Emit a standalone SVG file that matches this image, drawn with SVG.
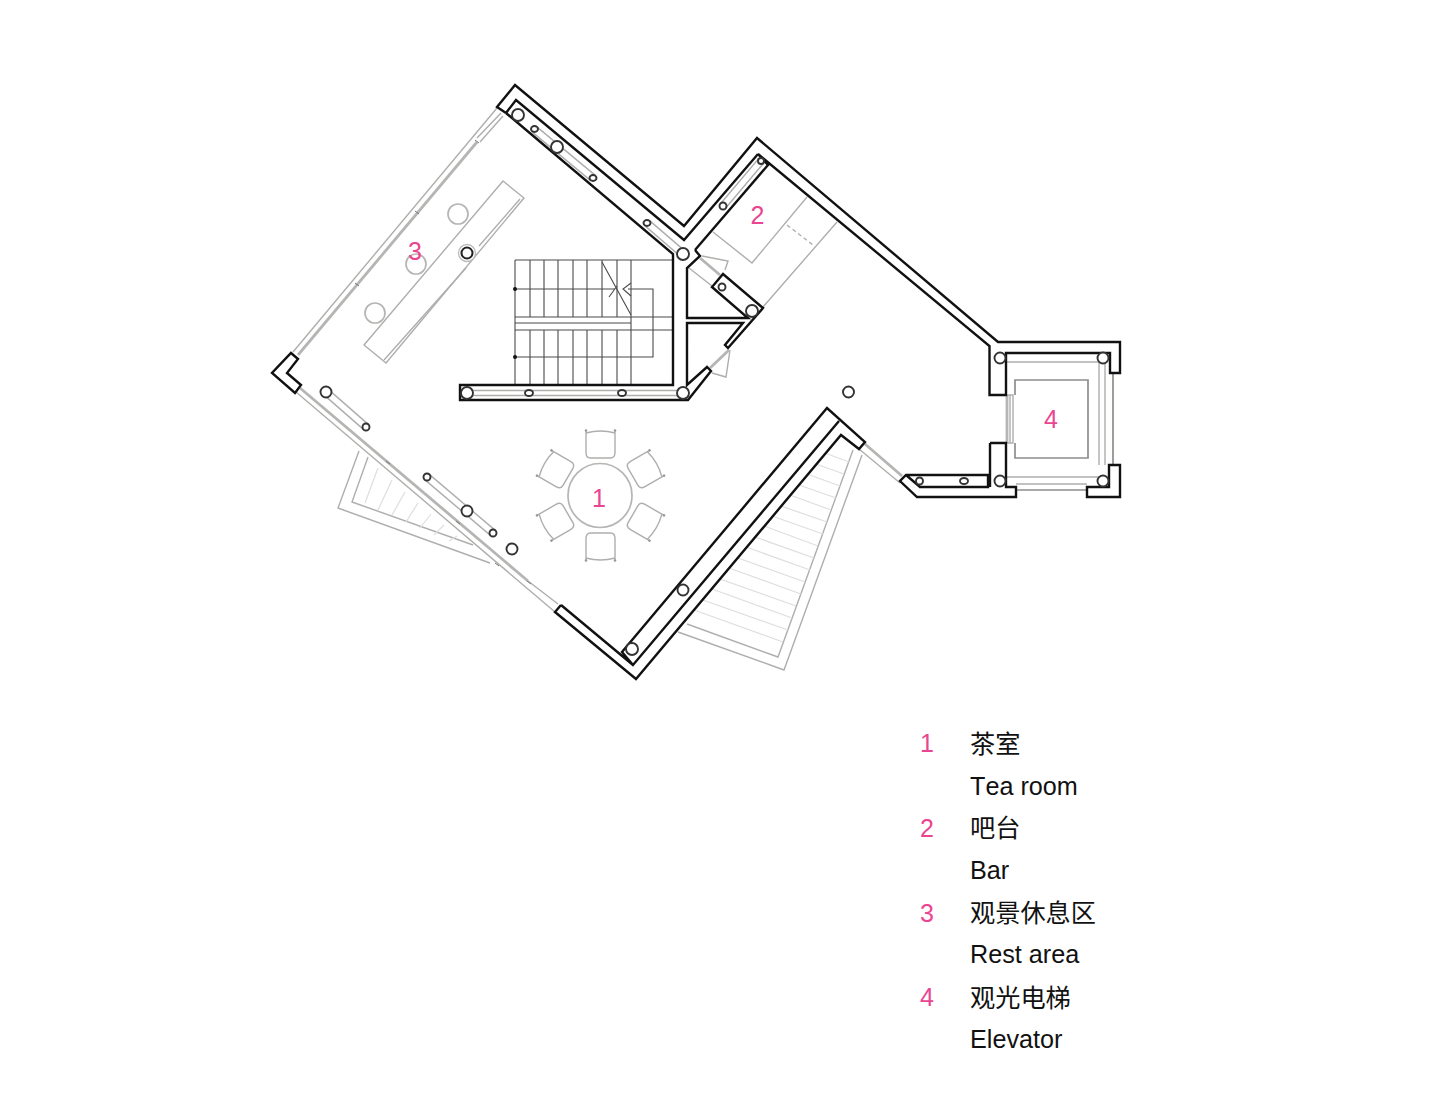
<svg xmlns="http://www.w3.org/2000/svg" width="1440" height="1101" viewBox="0 0 1440 1101">
<style>
.wall{fill:none;stroke:#111;stroke-width:2.4;stroke-linejoin:miter}
.g{fill:none;stroke:#aeaeac;stroke-width:1.4}
.gd{fill:none;stroke:#8f8d8a;stroke-width:1.7}
.gt{fill:none;stroke:#b5b5b3;stroke-width:2.8}
.h{fill:none;stroke:#dedede;stroke-width:1.2}
.st{fill:none;stroke:#4a4a4a;stroke-width:1.1}
.tk{fill:none;stroke:#777;stroke-width:1}
.c{fill:#fff;stroke:#333;stroke-width:1.9}
.cg{fill:#fff;stroke:#b5b5b3;stroke-width:1.7}
.n{font-family:"Liberation Sans",Arial,sans-serif;font-size:25px;fill:#ea4590}
.t{font-family:"Liberation Sans","Noto Sans CJK SC",sans-serif;font-size:25.200px;fill:#111;font-kerning:none}
</style>
<defs>
<g id="chair">
<path class="g" d="M-14.500,-65V-43Q-14.500,-37.500 -10,-37.500H10Q14.500,-37.500 14.500,-43V-65M-14.500,-62.500Q0,-66.500 14.500,-62.500"/>
<circle cx="-14.500" cy="-65" r="1.300" fill="#999"/><circle cx="14.500" cy="-65" r="1.300" fill="#999"/>
</g>
</defs>
<rect width="1440" height="1101" fill="#fff"/>

<g id="balcony-left">
<path class="g" d="M359,451L338,508L490,563"/>
<path class="g" d="M368,457L352,502L473,545"/>
<path class="h" d="M378,468L365,503M392,480L378,510M405,492L392,515M418,503L406,522M431,514L420,528M444,525L434,535M457,536L449,541"/>
</g>
<g id="balcony-right">
<path class="g" d="M862,455L784,670L678,632"/>
<path class="g" d="M853,450L778,657L687,624"/>
<path class="h" d="M783,642L694,610M788,630L703,600M792,618L712,589M796,606L720,579M801,594L729,568M805,582L738,558M810,570L746,547M814,558L755,537M818,546L764,526M823,534L772,516M827,522L781,506M831,510L790,495M836,498L799,485M840,486L807,474M844,474L816,464M849,462L825,453"/>
</g>

<g id="windows">
<path class="g" d="M293,352L497,108M477,138L501,113M480,142L503,116"/>
<path class="gt" d="M298,355L477,142"/>
<path class="g" d="M296,392L555,612M528,581L558,604"/>
<path class="gt" d="M300,388L528,581"/>
<path class="g" d="M859,449L900,483"/>
<path class="gt" d="M865,444L902,476"/>
<path class="tk" d="M475,140L479,143M415,211L419,214M355,283L359,286M386,461L390,464M456,521L460,524M495,563L499,566M527,581L531,584"/>
</g>

<g id="bar">
<path class="g" d="M713,232L752,263L807,197M837,222L763,307"/>
<path class="g" stroke-dasharray="4 3" d="M787,225L813,245"/>
</g>

<g id="rest-counter">
<path class="g" d="M503,181L524,198L386,363L364,345Z"/>
<path class="g" d="M520,199L479,246M466,268L384,360"/>
<circle class="cg" cx="458" cy="214" r="10"/>
<circle class="cg" cx="416" cy="264" r="10"/>
<circle class="cg" cx="375" cy="313" r="10"/>
<circle cx="467" cy="253" r="8.500" fill="#fff" stroke="#bbb" stroke-width="1.300"/>
<circle cx="467" cy="253" r="5.500" fill="#fff" stroke="#222" stroke-width="2"/>
</g>

<g id="tea-table">
<circle class="cg" cx="600" cy="495.500" r="32"/>
<use href="#chair" transform="translate(600.500,495.500)"/>
<use href="#chair" transform="translate(600.500,495.500) rotate(60)"/>
<use href="#chair" transform="translate(600.500,495.500) rotate(120)"/>
<use href="#chair" transform="translate(600.500,495.500) rotate(180)"/>
<use href="#chair" transform="translate(600.500,495.500) rotate(240)"/>
<use href="#chair" transform="translate(600.500,495.500) rotate(300)"/>
</g>

<g id="stairs">
<path class="st" d="M515,260H674M515,317H674M515,330H674M515,323H631"/>
<path class="st" d="M515,260V385M530,260V317M530,330V385M544,260V317M544,330V385M558,260V317M558,330V385M573,260V317M573,330V385M587,260V317M587,330V385M602,260V317M602,330V385M617,260V317M617,330V385M631,260V385"/>
<path class="st" d="M515,289H615M628,289H653V357H515"/>
<path class="st" d="M602,262L631,315M631,283L623,289L631,296M609,297L617,286"/>
<circle cx="515" cy="289" r="2" fill="#111"/><circle cx="515" cy="357" r="2" fill="#111"/>
</g>

<g id="doors">
<path class="g" d="M702,256L728,261L725,270M730,350L726,377L712,373"/>
<path class="gt" d="M700,258L720,275M710,368L729,350"/>
<path class="g" d="M689,268L712,286"/>
</g>

<g id="column-strips">
<path class="g" d="M328.300,389.400L368.300,424.400M323.700,394.600L363.700,429.600"/>
<path class="g" d="M429.300,474.400L495.300,530.400M424.700,479.600L490.700,535.600"/>
<path class="g" d="M536.300,126.400L595.300,175.400M531.700,131.600L590.700,180.600"/>
<path class="g" d="M649.300,220.400L685.300,251.400M644.700,225.600L680.700,256.600"/>
<path class="g" d="M725.500,208.200L763.500,163.200M720.500,203.800L758.500,158.800"/>
<path class="g" d="M467,390.500H683M467,395.500H683"/>
</g>

<g id="elevator">
<path class="gd" d="M1015,395V380H1088V458H1015V443"/>
<path class="g" d="M1006,362H1099M1099,353V465M1105,353V465M1006,477H1099M1016,484H1087"/>
<path class="gd" d="M1113,373V465M1016,490H1087"/>
<path class="g" d="M1007,395H1013V443H1007ZM1010,395V443"/>
<path class="gt" d="M1007,395V443"/>
</g>

<g id="walls">
<path class="wall" d="M506,113L497,107L515,85L684,226L757,138L998,342H1120V373H1110V353H1006V395H989.500V346L758,154L768,165L695,250"/>
<path class="wall" d="M506,113L516,100L684,240L758,154"/>
<path class="wall" d="M506,113L673,254V385H460V400H688L711,371L707,367L687,385V323H743L725,345L728,348L763,308L723,274L712,287L748,318H687V268L700,256L695,250"/>
<path class="wall" d="M291,353L298,359L287,373L301,385L295,393L272,373Z"/>
<path class="wall" d="M561,605L555,612L636,679L841,435L859,449L865,442L827,408L622,652L633,665L839,421M561,605L633,665"/>
<path class="wall" d="M990,443H1006V487H1016V497H917L900,481L906,475H988V487H920L906,475M990,443V487"/>
<path class="wall" d="M1109,465H1120V497H1087V487H1109Z"/>
</g>

<g id="columns">
<circle class="c" cx="518" cy="115" r="6"/>
<ellipse class="c" cx="534.500" cy="129" rx="3.500" ry="3"/>
<circle class="c" cx="557" cy="147" r="6"/>
<ellipse class="c" cx="593" cy="178" rx="3.500" ry="3"/>
<ellipse class="c" cx="647" cy="223" rx="3.500" ry="3"/>
<circle class="c" cx="683" cy="254" r="6"/>
<circle class="c" cx="723" cy="206" r="3.500"/>
<circle class="c" cx="761" cy="161" r="3"/>
<circle class="c" cx="722" cy="287" r="3.500"/>
<circle class="c" cx="752" cy="311" r="6"/>
<circle class="c" cx="683" cy="393" r="6"/>
<ellipse class="c" cx="622" cy="393" rx="4" ry="3"/>
<ellipse class="c" cx="529" cy="393" rx="4" ry="3"/>
<circle class="c" cx="467" cy="393" r="6"/>
<circle class="c" cx="326" cy="392" r="5.500"/>
<circle class="c" cx="366" cy="427" r="3.500"/>
<circle class="c" cx="427" cy="477" r="3.500"/>
<circle class="c" cx="467" cy="511" r="5.500"/>
<circle class="c" cx="493" cy="533" r="3.500"/>
<circle class="c" cx="512" cy="549" r="5.500"/>
<circle class="c" cx="683" cy="590" r="5.500"/>
<circle class="c" cx="632" cy="649" r="6"/>
<circle class="c" cx="848.500" cy="392" r="5.500"/>
<circle class="c" cx="1000" cy="358" r="5.500"/>
<circle class="c" cx="1103" cy="358" r="5.500"/>
<circle class="c" cx="1000" cy="481" r="5.500"/>
<circle class="c" cx="1103" cy="481" r="5.500"/>
<circle class="c" cx="919.500" cy="481" r="3.500"/>
<ellipse class="c" cx="964" cy="481" rx="4" ry="3"/>
</g>

<g id="room-labels">
<text class="n" x="599" y="507" text-anchor="middle">1</text>
<text class="n" x="757.500" y="224" text-anchor="middle">2</text>
<text class="n" x="415" y="260" text-anchor="middle">3</text>
<text class="n" x="1051" y="428" text-anchor="middle">4</text>
</g>

<g id="legend">
<text class="n" x="927" y="752" text-anchor="middle">1</text>
<text class="t" x="970" y="753">茶室</text>
<text class="t" x="970" y="795">Tea room</text>
<text class="n" x="927" y="837" text-anchor="middle">2</text>
<text class="t" x="970" y="837">吧台</text>
<text class="t" x="970" y="879">Bar</text>
<text class="n" x="927" y="922" text-anchor="middle">3</text>
<text class="t" x="970" y="922">观景休息区</text>
<text class="t" x="970" y="963">Rest area</text>
<text class="n" x="927" y="1006" text-anchor="middle">4</text>
<text class="t" x="970" y="1007">观光电梯</text>
<text class="t" x="970" y="1048">Elevator</text>
</g>
</svg>
